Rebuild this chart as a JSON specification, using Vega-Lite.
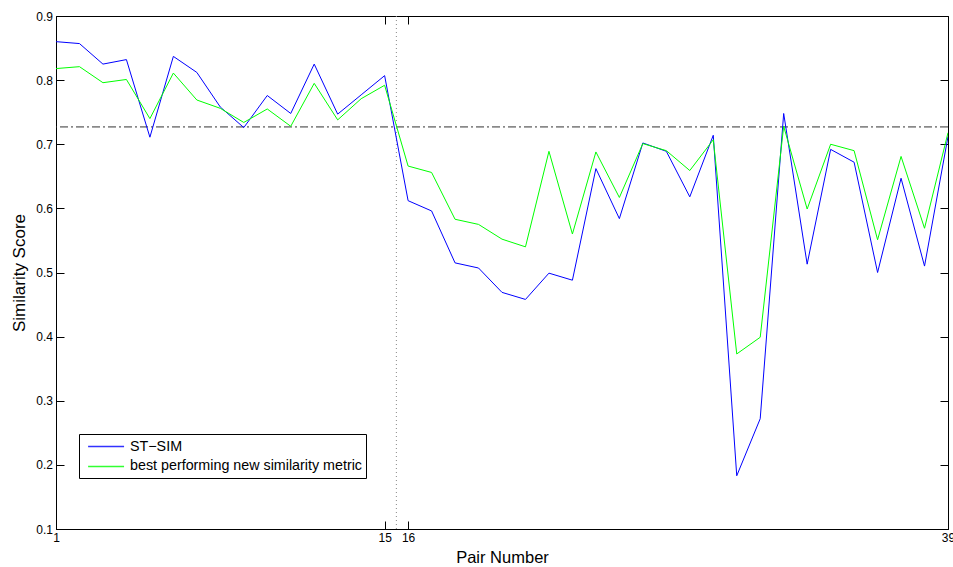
{
  "$schema": "https://vega.github.io/schema/vega-lite/v6.json",
  "width": 892,
  "height": 513,
  "autosize": "none",
  "padding": {"left": 56, "top": 16, "right": 5, "bottom": 38},
  "background": "white",
  "config": {
    "view": {"stroke": "black", "strokeWidth": 1},
    "font": "Liberation Sans",
    "axis": {
      "grid": false,
      "domainColor": "black",
      "tickColor": "black",
      "labelColor": "black",
      "titleColor": "black",
      "labelFont": "Liberation Sans",
      "titleFont": "Liberation Sans",
      "labelFontSize": 12,
      "titleFontWeight": "normal",
      "tickSize": -8
    },
    "legend": {
      "labelFont": "Liberation Sans",
      "labelFontSize": 14.3,
      "labelColor": "black",
      "labelLimit": 0
    }
  },
  "datasets": {
    "scores": [
      {"pair": 1, "series": "ST−SIM", "score": 0.860},
      {"pair": 2, "series": "ST−SIM", "score": 0.857},
      {"pair": 3, "series": "ST−SIM", "score": 0.825},
      {"pair": 4, "series": "ST−SIM", "score": 0.832},
      {"pair": 5, "series": "ST−SIM", "score": 0.711},
      {"pair": 6, "series": "ST−SIM", "score": 0.837},
      {"pair": 7, "series": "ST−SIM", "score": 0.812},
      {"pair": 8, "series": "ST−SIM", "score": 0.758},
      {"pair": 9, "series": "ST−SIM", "score": 0.726},
      {"pair": 10, "series": "ST−SIM", "score": 0.776},
      {"pair": 11, "series": "ST−SIM", "score": 0.748},
      {"pair": 12, "series": "ST−SIM", "score": 0.825},
      {"pair": 13, "series": "ST−SIM", "score": 0.747},
      {"pair": 14, "series": "ST−SIM", "score": 0.777},
      {"pair": 15, "series": "ST−SIM", "score": 0.807},
      {"pair": 16, "series": "ST−SIM", "score": 0.612},
      {"pair": 17, "series": "ST−SIM", "score": 0.596},
      {"pair": 18, "series": "ST−SIM", "score": 0.515},
      {"pair": 19, "series": "ST−SIM", "score": 0.507},
      {"pair": 20, "series": "ST−SIM", "score": 0.469},
      {"pair": 21, "series": "ST−SIM", "score": 0.458},
      {"pair": 22, "series": "ST−SIM", "score": 0.499},
      {"pair": 23, "series": "ST−SIM", "score": 0.488},
      {"pair": 24, "series": "ST−SIM", "score": 0.662},
      {"pair": 25, "series": "ST−SIM", "score": 0.584},
      {"pair": 26, "series": "ST−SIM", "score": 0.702},
      {"pair": 27, "series": "ST−SIM", "score": 0.689},
      {"pair": 28, "series": "ST−SIM", "score": 0.618},
      {"pair": 29, "series": "ST−SIM", "score": 0.714},
      {"pair": 30, "series": "ST−SIM", "score": 0.183},
      {"pair": 31, "series": "ST−SIM", "score": 0.272},
      {"pair": 32, "series": "ST−SIM", "score": 0.748},
      {"pair": 33, "series": "ST−SIM", "score": 0.513},
      {"pair": 34, "series": "ST−SIM", "score": 0.692},
      {"pair": 35, "series": "ST−SIM", "score": 0.672},
      {"pair": 36, "series": "ST−SIM", "score": 0.500},
      {"pair": 37, "series": "ST−SIM", "score": 0.647},
      {"pair": 38, "series": "ST−SIM", "score": 0.510},
      {"pair": 39, "series": "ST−SIM", "score": 0.712},
      {"pair": 1, "series": "best performing new similarity metric", "score": 0.818},
      {"pair": 2, "series": "best performing new similarity metric", "score": 0.821},
      {"pair": 3, "series": "best performing new similarity metric", "score": 0.796},
      {"pair": 4, "series": "best performing new similarity metric", "score": 0.801},
      {"pair": 5, "series": "best performing new similarity metric", "score": 0.740},
      {"pair": 6, "series": "best performing new similarity metric", "score": 0.811},
      {"pair": 7, "series": "best performing new similarity metric", "score": 0.769},
      {"pair": 8, "series": "best performing new similarity metric", "score": 0.756},
      {"pair": 9, "series": "best performing new similarity metric", "score": 0.734},
      {"pair": 10, "series": "best performing new similarity metric", "score": 0.755},
      {"pair": 11, "series": "best performing new similarity metric", "score": 0.728},
      {"pair": 12, "series": "best performing new similarity metric", "score": 0.795},
      {"pair": 13, "series": "best performing new similarity metric", "score": 0.738},
      {"pair": 14, "series": "best performing new similarity metric", "score": 0.771},
      {"pair": 15, "series": "best performing new similarity metric", "score": 0.792},
      {"pair": 16, "series": "best performing new similarity metric", "score": 0.666},
      {"pair": 17, "series": "best performing new similarity metric", "score": 0.656},
      {"pair": 18, "series": "best performing new similarity metric", "score": 0.583},
      {"pair": 19, "series": "best performing new similarity metric", "score": 0.575},
      {"pair": 20, "series": "best performing new similarity metric", "score": 0.552},
      {"pair": 21, "series": "best performing new similarity metric", "score": 0.540},
      {"pair": 22, "series": "best performing new similarity metric", "score": 0.689},
      {"pair": 23, "series": "best performing new similarity metric", "score": 0.560},
      {"pair": 24, "series": "best performing new similarity metric", "score": 0.688},
      {"pair": 25, "series": "best performing new similarity metric", "score": 0.617},
      {"pair": 26, "series": "best performing new similarity metric", "score": 0.701},
      {"pair": 27, "series": "best performing new similarity metric", "score": 0.690},
      {"pair": 28, "series": "best performing new similarity metric", "score": 0.659},
      {"pair": 29, "series": "best performing new similarity metric", "score": 0.707},
      {"pair": 30, "series": "best performing new similarity metric", "score": 0.373},
      {"pair": 31, "series": "best performing new similarity metric", "score": 0.399},
      {"pair": 32, "series": "best performing new similarity metric", "score": 0.728},
      {"pair": 33, "series": "best performing new similarity metric", "score": 0.599},
      {"pair": 34, "series": "best performing new similarity metric", "score": 0.700},
      {"pair": 35, "series": "best performing new similarity metric", "score": 0.690},
      {"pair": 36, "series": "best performing new similarity metric", "score": 0.551},
      {"pair": 37, "series": "best performing new similarity metric", "score": 0.681},
      {"pair": 38, "series": "best performing new similarity metric", "score": 0.569},
      {"pair": 39, "series": "best performing new similarity metric", "score": 0.718}
    ],
    "hline": [{"level": 0.727}],
    "vline": [{"split": 15.5}]
  },
  "layer": [
    {
      "data": {"name": "hline"},
      "mark": {"type": "rule", "color": "#333333", "strokeWidth": 1, "strokeDash": [8, 3, 2, 3]},
      "encoding": {
        "y": {
          "field": "level", "type": "quantitative",
          "scale": {"domain": [0.1, 0.9], "nice": false, "zero": false},
          "axis": {"orient": "right", "title": null, "labels": false, "values": [0.1, 0.2, 0.3, 0.4, 0.5, 0.6, 0.7, 0.8, 0.9], "domain": false}
        }
      }
    },
    {
      "data": {"name": "vline"},
      "mark": {"type": "rule", "color": "#888888", "strokeWidth": 1, "strokeDash": [1, 3]},
      "encoding": {
        "x": {
          "field": "split", "type": "quantitative",
          "scale": {"domain": [1, 39], "nice": false, "zero": false},
          "axis": {"orient": "top", "title": null, "labels": false, "values": [1, 15, 16, 39], "domain": false}
        }
      }
    },
    {
      "data": {"name": "scores"},
      "mark": {"type": "line", "strokeWidth": 1, "clip": true},
      "encoding": {
        "x": {
          "field": "pair", "type": "quantitative",
          "scale": {"domain": [1, 39], "nice": false, "zero": false},
          "axis": {"orient": "bottom", "title": "Pair Number", "titleFontSize": 16.5, "values": [1, 15, 16, 39], "labelPadding": 11, "titlePadding": 6.5, "labelFlush": false}
        },
        "y": {
          "field": "score", "type": "quantitative",
          "scale": {"domain": [0.1, 0.9], "nice": false, "zero": false},
          "axis": {"orient": "left", "title": "Similarity Score", "titleFontSize": 17, "values": [0.1, 0.2, 0.3, 0.4, 0.5, 0.6, 0.7, 0.8, 0.9], "format": ".1f", "labelPadding": 11.5, "titlePadding": 7}
        },
        "color": {
          "field": "series", "type": "nominal",
          "scale": {"domain": ["ST−SIM", "best performing new similarity metric"], "range": ["#0000ff", "#00ff00"]},
          "legend": {
            "title": null,
            "orient": "none",
            "legendX": 23,
            "legendY": 418,
            "strokeColor": "black",
            "fillColor": "white",
            "padding": 4,
            "symbolType": "M-0.46,0H4.4",
            "symbolSize": 219,
            "symbolStrokeWidth": 1.5,
            "symbolOpacity": 0.8,
            "labelOffset": 30,
            "rowPadding": 3.9
          }
        }
      }
    }
  ]
}
